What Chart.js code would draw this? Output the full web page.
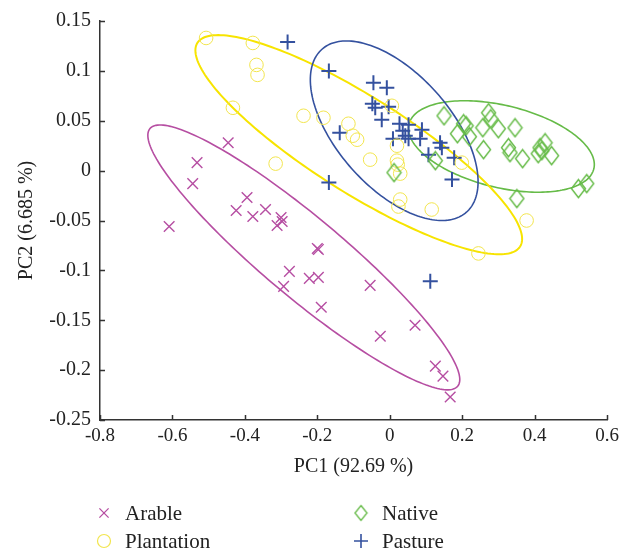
<!DOCTYPE html>
<html><head><meta charset="utf-8">
<script src="https://cdn.jsdelivr.net/npm/chart.js@4.4.1/dist/chart.umd.min.js"></script>
<style>html,body{margin:0;padding:0;background:#fff}#wrap{width:632px;height:550px}</style>
</head><body><div id="wrap"><canvas id="c" width="632" height="550"></canvas></div>
<script>
// ---- data ----
const seriesNames = ['Arable', 'Native', 'Plantation', 'Pasture'];

const arableX = [-0.609,-0.532,-0.544,-0.446,-0.394,-0.424,-0.378,-0.343,-0.300,-0.297,-0.311,-0.200,-0.197,-0.277,-0.293,-0.222,-0.197,-0.189,-0.054,-0.026,0.070,0.126,0.147,0.167];
const arableY = [-0.056,0.008,-0.013,0.028,-0.027,-0.040,-0.046,-0.039,-0.047,-0.051,-0.055,-0.078,-0.079,-0.101,-0.116,-0.108,-0.107,-0.137,-0.115,-0.166,-0.155,-0.196,-0.206,-0.227];

const nativeX = [0.150,0.204,0.211,0.187,0.220,0.273,0.279,0.257,0.300,0.346,0.259,0.328,0.332,0.367,0.415,0.420,0.410,0.429,0.447,0.126,0.012,0.351,0.521,0.544];
const nativeY = [0.055,0.047,0.045,0.037,0.034,0.058,0.052,0.043,0.042,0.043,0.021,0.023,0.018,0.012,0.023,0.020,0.017,0.028,0.015,0.010,-0.002,-0.028,-0.018,-0.013];

const plantationX = [-0.507,-0.378,-0.368,-0.365,-0.433,-0.238,-0.183,-0.114,-0.102,-0.090,-0.315,0.006,0.020,-0.054,0.020,0.022,0.029,0.029,0.024,0.116,0.199,0.378,0.245];
const plantationY = [0.133,0.128,0.106,0.096,0.063,0.055,0.053,0.047,0.035,0.031,0.007,0.065,0.025,0.011,0.010,0.006,-0.003,-0.029,-0.036,-0.039,0.008,-0.050,-0.083];

const pastureX = [-0.282,-0.168,-0.138,-0.168,-0.045,-0.008,-0.048,-0.040,-0.003,-0.022,0.027,0.052,0.089,0.009,0.036,0.043,0.052,0.084,0.139,0.144,0.107,0.178,0.172,0.112];
const pastureY = [0.129,0.100,0.038,-0.012,0.088,0.083,0.067,0.063,0.064,0.051,0.047,0.046,0.041,0.032,0.040,0.035,0.032,0.032,0.028,0.023,0.016,0.013,-0.009,-0.111];

// confidence ellipses (data units): centre and two conjugate half-axis vectors
const ellipseCX = [-0.2372, 0.3084, -0.0855, 0.0124];
const ellipseCY = [-0.087, 0.0242, 0.026, 0.040];
const ellipseUX = [0.4248, 0.2552, 0.4455, 0.1994];
const ellipseUY = [-0.1292, -0.0224, -0.1021, -0.0817];
const ellipseVX = [-0.0709, -0.0267, -0.0708, -0.1178];
const ellipseVY = [-0.0306, -0.0400, -0.0406, -0.0378];

const xTicks = [-0.8,-0.6,-0.4,-0.2,0,0.2,0.4,0.6];
const xTickLabels = ['-0.8','-0.6','-0.4','-0.2','0','0.2','0.4','0.6'];
const yTicks = [-0.25,-0.2,-0.15,-0.1,-0.05,0,0.05,0.1,0.15];
const yTickLabels = ['-0.25','-0.2','-0.15','-0.1','-0.05','0','0.05','0.1','0.15'];

const xTitle = 'PC1 (92.69 %)';
const yTitle = 'PC2 (6.685 %)';

// ---- styles ----
const colMag = '#B64EA2', colGreen = '#66BB48', colYellow = '#F2E54E', colYellowLine = '#F7E400', colBlue = '#34519F';
const FONT = "'Liberation Serif', 'DejaVu Serif', serif";

function diamond(color, w, h, lw) {
  const c = document.createElement('canvas');
  c.width = w; c.height = h;
  const g = c.getContext('2d');
  g.strokeStyle = color; g.lineWidth = lw;
  g.beginPath();
  g.moveTo(w / 2, 1.5); g.lineTo(w - 1.5, h / 2); g.lineTo(w / 2, h - 1.5); g.lineTo(1.5, h / 2); g.closePath();
  g.stroke();
  return c;
}
const diamondImg = diamond(colGreen, 17, 21, 1.4);
const diamondLegendImg = diamond(colGreen, 15, 18, 1.3);

const pts = (xs, ys) => xs.map((x, i) => ({x: x, y: ys[i]}));

const datasets = [
  {label: seriesNames[0], data: pts(arableX, arableY), pointStyle: 'crossRot', pointRadius: 7.5, borderColor: colMag, backgroundColor: colMag, pointBorderWidth: 1.4, ell: colMag, ellW: 1.6, legR: 6.5, legW: 1.3},
  {label: seriesNames[1], data: pts(nativeX, nativeY), pointStyle: diamondImg, pointRadius: 8, borderColor: colGreen, backgroundColor: 'rgba(0,0,0,0)', pointBorderWidth: 1.4, ell: colGreen, ellW: 1.6, legImg: diamondLegendImg},
  {label: seriesNames[2], data: pts(plantationX, plantationY), pointStyle: 'circle', pointRadius: 6.8, borderColor: colYellow, backgroundColor: 'rgba(0,0,0,0)', pointBorderWidth: 1, ell: colYellowLine, ellW: 2, legR: 6.5, legW: 1.2},
  {label: seriesNames[3], data: pts(pastureX, pastureY), pointStyle: 'cross', pointRadius: 7.5, borderColor: colBlue, backgroundColor: colBlue, pointBorderWidth: 2, ell: colBlue, ellW: 1.6, legR: 7, legW: 1.6}
];

const ellipsePlugin = {
  id: 'ellipses',
  beforeDatasetsDraw(chart) {
    const ctx = chart.ctx, xs = chart.scales.x, ys = chart.scales.y;
    chart.data.datasets.forEach((ds, k) => {
      const cx = xs.getPixelForValue(ellipseCX[k]), cy = ys.getPixelForValue(ellipseCY[k]);
      const ux = xs.getPixelForValue(ellipseCX[k] + ellipseUX[k]) - cx, uy = ys.getPixelForValue(ellipseCY[k] + ellipseUY[k]) - cy;
      const vx = xs.getPixelForValue(ellipseCX[k] + ellipseVX[k]) - cx, vy = ys.getPixelForValue(ellipseCY[k] + ellipseVY[k]) - cy;
      ctx.save();
      ctx.strokeStyle = ds.ell; ctx.lineWidth = ds.ellW;
      ctx.beginPath();
      const N = 200;
      for (let i = 0; i <= N; i++) {
        const t = i / N * Math.PI * 2;
        const px = cx + ux * Math.cos(t) + vx * Math.sin(t);
        const py = cy + uy * Math.cos(t) + vy * Math.sin(t);
        if (i === 0) ctx.moveTo(px, py); else ctx.lineTo(px, py);
      }
      ctx.closePath();
      ctx.stroke();
      ctx.restore();
    });
  }
};

const tickPlugin = {
  id: 'inTicks',
  afterDraw(chart) {
    const ctx = chart.ctx, xs = chart.scales.x, ys = chart.scales.y, a = chart.chartArea;
    ctx.save();
    ctx.strokeStyle = '#333'; ctx.lineWidth = 1.5;
    ctx.beginPath();
    xTicks.forEach(v => { const p = Math.round(xs.getPixelForValue(v)) + 0.5; ctx.moveTo(p, a.bottom); ctx.lineTo(p, a.bottom - 5); });
    yTicks.forEach(v => { const p = Math.round(ys.getPixelForValue(v)) + 0.5; ctx.moveTo(a.left, p); ctx.lineTo(a.left + 5, p); });
    ctx.stroke();
    ctx.restore();
  }
};

const legendPlugin = {
  id: 'gridLegend',
  afterDraw(chart) {
    const ctx = chart.ctx, a = chart.chartArea;
    const colX = [a.left + 4, a.left + 261];
    const rowY = [513, 541];
    chart.data.datasets.forEach((ds, i) => {
      const col = i % 2, row = Math.floor(i / 2);
      const x = colX[col], y = rowY[row];
      ctx.save();
      if (ds.legImg) {
        ctx.drawImage(ds.legImg, x - ds.legImg.width / 2, y - ds.legImg.height / 2);
      } else {
        ctx.strokeStyle = ds.borderColor;
        ctx.fillStyle = ds.backgroundColor;
        ctx.lineWidth = ds.legW;
        Chart.helpers.drawPoint(ctx, {pointStyle: ds.pointStyle, radius: ds.legR, borderWidth: ds.legW, rotation: 0}, x, y);
      }
      ctx.restore();
      ctx.save();
      ctx.font = '21px ' + FONT;
      ctx.textBaseline = 'middle';
      ctx.fillStyle = '#222';
      ctx.fillText(ds.label, x + 21, y + 1);
      ctx.restore();
    });
  }
};

new Chart(document.getElementById('c'), {
  type: 'scatter',
  data: {datasets: datasets},
  options: {
    responsive: false,
    animation: false,
    devicePixelRatio: 1,
    layout: {padding: {left: 0, top: 20, right: 25, bottom: 70}},
    plugins: {legend: {display: false}, tooltip: {enabled: false}},
    scales: {
      x: {
        type: 'linear', min: -0.8, max: 0.6,
        afterBuildTicks: s => { s.ticks = xTicks.map(v => ({value: v})); },
        afterFit: s => { s.height = 60; },
        ticks: {callback: (v, i) => xTickLabels[i], font: {family: FONT, size: 19}, color: '#222', padding: 5, maxRotation: 0, autoSkip: false},
        grid: {drawOnChartArea: false, drawTicks: false},
        border: {display: true, color: '#333', width: 1.5},
        title: {display: true, text: xTitle, font: {family: FONT, size: 20}, color: '#222', padding: {top: 0, bottom: 1}}
      },
      y: {
        type: 'linear', min: -0.25, max: 0.15,
        afterBuildTicks: s => { s.ticks = yTicks.map(v => ({value: v})); },
        afterFit: s => { s.width = 100; },
        ticks: {callback: (v, i) => yTickLabels[i], font: {family: FONT, size: 20}, color: '#222', padding: 9, autoSkip: false},
        grid: {drawOnChartArea: false, drawTicks: false},
        border: {display: true, color: '#333', width: 1.5},
        title: {display: true, text: yTitle, font: {family: FONT, size: 20}, color: '#222', padding: {top: 15, bottom: 0}}
      }
    }
  },
  plugins: [ellipsePlugin, tickPlugin, legendPlugin]
});
</script>
</body></html>
